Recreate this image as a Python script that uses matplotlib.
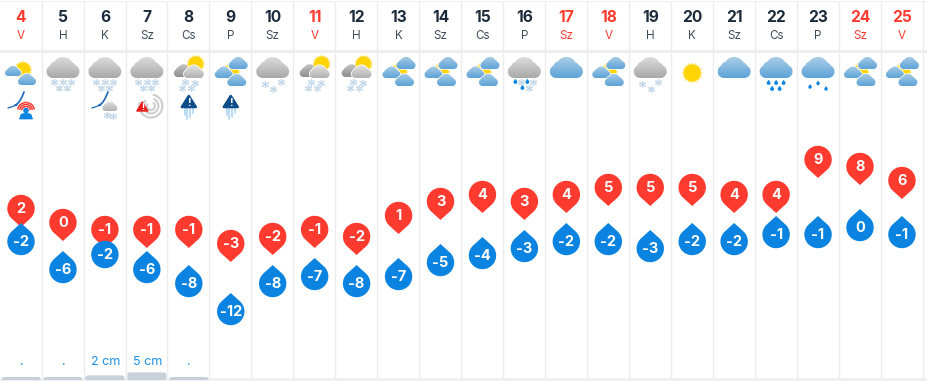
#!/usr/bin/env python3
"""Monthly weather forecast strip: day header, icons, high/low pins, snow depth."""

import numpy as np
import matplotlib
matplotlib.use("Agg")
import matplotlib.pyplot as plt
from matplotlib.path import Path
from matplotlib.patches import PathPatch, Polygon, Circle, Rectangle, FancyBboxPatch, Arc

plt.rcParams['font.family'] = ['Inter', 'DejaVu Sans']

days = [4, 5, 6, 7, 8, 9, 10, 11, 12, 13, 14, 15, 16, 17, 18, 19, 20, 21, 22, 23, 24, 25]
weekdays = ["V", "H", "K", "Sz", "Cs", "P", "Sz", "V", "H", "K", "Sz", "Cs", "P", "Sz", "V", "H", "K", "Sz", "Cs", "P", "Sz", "V"]
red_days = [4, 11, 17, 18, 24, 25]
highs = [2, 0, -1, -1, -1, -3, -2, -1, -2, 1, 3, 4, 3, 4, 5, 5, 5, 4, 4, 9, 8, 6]
lows = [-2, -6, -2, -6, -8, -12, -8, -7, -8, -7, -5, -4, -3, -2, -2, -3, -2, -2, -1, -1, 0, -1]
icons = ["sunny_blue", "snow", "snow", "snow", "sun_snow", "three_blue", "light_snow", "sun_snow", "sun_snow",
         "three_blue", "three_blue", "three_blue", "mix", "blue", "three_blue", "light_snow", "sun", "blue",
         "rain", "light_rain", "three_blue", "three_blue"]
warnings = {4: "wind_person", 6: "wind_cloud", 7: "storm", 8: "ice", 9: "ice"}
snow_labels = {4: ".", 5: ".", 6: "2 cm", 7: "5 cm", 8: "."}
snow_depth = {4: 0.4, 5: 0.4, 6: 2, 7: 5, 8: 0.4}

RED = "#ff3b30"
BLUE = "#0a84e0"
NAVY = "#1c2b3c"
GRID = "#ececec"
GRAY_CLOUD = ("#dcdcdc", "#a9a9a9")
DARK_CLOUD = ("#c4c4c4", "#8f8f8f")
LIGHT_CLOUD = ("#e2e2e2", "#b2b2b2")
BLUE_CLOUD = ("#a9cde6", "#5ea3d8")

fig = plt.figure(figsize=(9.28, 3.81), dpi=100)
ax = fig.add_axes([0, 0, 1, 1])
ax.axis("off")


def col_x(i):
    return 21 + 41.95 * i


def high_y(t):
    return 222.5 - 7 * t


def low_y(t):
    return 227.5 - 7 * t


def cloud(cx, bottom, w, colors, z):
    # outline is the envelope of a few lobes, flat at the bottom
    s = w / 33.0
    lobes = [(-10, -6.5, 6.5), (10, -6.5, 6.5), (0, -10.5, 10.5), (-7.5, -11, 5.5), (7, -9.5, 6.5)]
    xs = np.linspace(-16.5, 16.5, 120)
    top = np.full_like(xs, -6.5)
    low = np.full_like(xs, -6.5)
    for a, b, r in lobes:
        d = r ** 2 - (xs - a) ** 2
        h = np.sqrt(np.clip(d, 0, None))
        top = np.where(d > 0, np.minimum(top, b - h), top)
        if b == -6.5:
            low = np.where(d > 0, np.maximum(low, b + h), low)
    low = np.where(np.abs(xs) < 10, 0, low)
    verts = np.r_[np.c_[cx + xs * s, bottom + top * s], np.c_[cx + xs[::-1] * s, bottom + low[::-1] * s]]
    path = Path(np.r_[verts, verts[:1]], closed=True)
    ax.add_patch(PathPatch(path, fc="white", ec="white", lw=1.1, zorder=z))
    c0 = np.array(matplotlib.colors.to_rgb(colors[0]))
    c1 = np.array(matplotlib.colors.to_rgb(colors[1]))
    t = np.linspace(0, 1, 32)[:, None, None]
    grad = c0[None, None, :] * (1 - t) + c1[None, None, :] * t
    im = ax.imshow(grad, extent=(cx - w, cx + w, bottom, bottom - 21 * s), aspect="auto", zorder=z + 0.1,
                   interpolation="bilinear")
    im.set_clip_path(path, transform=ax.transData)


def sun(cx, cy, r, z):
    ang = np.linspace(0, 2 * np.pi, 33)[:-1]
    rad = np.where(np.arange(32) % 2 == 0, r * 1.28, r * 1.02)
    ax.add_patch(Polygon(np.c_[cx + rad * np.cos(ang), cy + rad * np.sin(ang)], fc="#ffe88a", ec="none", zorder=z))
    ax.add_patch(Circle((cx, cy), r, fc="#ffd400", ec="none", zorder=z + 0.1))


def flakes(cx, pts):
    for dx, y in pts:
        ax.plot(cx + dx, y, marker=(6, 2, 0), ms=5.0, mew=0.9, color="#c6daeb", zorder=6)


def drops(cx, pts, size=1.0):
    for dx, y in pts:
        drop_path = teardrop(cx + dx, y, 1.9 * size, 3.2 * size, up=True)
        ax.add_patch(PathPatch(drop_path, fc=BLUE, ec="none", zorder=6))


def teardrop(x, y, r, tip, up):
    # circle plus tangents running to a point, up or down from the centre
    a = np.arccos(r / tip)
    sign = -1 if up else 1
    ang = np.linspace(a, 2 * np.pi - a, 60)
    px = x + r * np.sin(ang)
    py = y + sign * r * np.cos(ang)
    verts = np.r_[[[x, y + sign * tip]], np.c_[px, py], [[x, y + sign * tip]]]
    return Path(verts, closed=True)


def swoosh(cx, cy):
    # two thin crescents rising to the right
    t = np.linspace(0, 1, 30)
    ax.plot(cx - 13 + 9 * t, cy + 13 - 3 * t, color="#1a66b8", lw=0.9, zorder=6, solid_capstyle="round")
    ax.plot(cx - 6 + 9 * t, cy + 10 - 2 * t - 11 * t ** 2, color="#1a66b8", lw=1.2, zorder=6, solid_capstyle="round")


def warning_icon(kind, cx):
    if kind == "wind_person":
        swoosh(cx, 95)
        px = cx + 5
        for r in (9, 13, 17):
            ax.add_patch(Arc((px, 111), r, r, theta1=190, theta2=350, color=RED, lw=1.1, zorder=6))
        ax.add_patch(Circle((px, 110.5), 2.8, fc=BLUE, ec="none", zorder=7))
        ax.add_patch(Polygon([(px - 6.5, 119), (px - 5, 114.5), (px - 2.5, 113.5), (px + 2.5, 113.5), (px + 5, 114.5),
                              (px + 6.5, 119)], fc=BLUE, ec=BLUE, lw=0.5, joinstyle="round", zorder=7))
    elif kind == "wind_cloud":
        swoosh(cx, 95)
        cloud(cx + 5, 111, 15, LIGHT_CLOUD, 6)
        flakes(cx + 5, [(-3, 115), (3, 115.5)])
    elif kind == "storm":
        for r, a0, a1 in ((8, -60, 220), (15, -70, 230), (23, -80, 200)):
            ax.add_patch(Arc((cx + 4, 106), r, r, theta1=a0, theta2=a1, color="#cfcfcf", lw=1.6, zorder=6))
        ax.add_patch(Polygon([(cx - 10, 111), (cx - 4.5, 102), (cx + 1, 111)], fc="#ee1c1c", ec="#ee1c1c",
                             lw=1, joinstyle="round", zorder=7))
        ax.text(cx - 4.5, 107.5, "!", color="white", fontsize=6.5, fontweight="bold", ha="center", va="center", zorder=8)
    elif kind == "ice":
        for dx, y1 in ((-4, 115), (-1.5, 119), (1.5, 117), (4, 113)):
            ax.plot([cx + dx, cx + dx], [107, y1], color="#b4daf2", lw=1.3, zorder=5, solid_capstyle="round")
        ax.add_patch(Polygon([(cx - 7, 107), (cx, 96), (cx + 7, 107)], fc="#0f4c8a", ec="#0f4c8a", lw=1.8,
                             joinstyle="round", zorder=6))
        ax.text(cx, 103, "!", color="white", fontsize=7.5, fontweight="bold", ha="center", va="center", zorder=7)


def weather_icon(kind, cx):
    if kind in ("snow", "light_snow", "mix"):
        cloud(cx, 78, 33, GRAY_CLOUD, 4)
    if kind == "snow":
        flakes(cx, [(-8.5, 82), (0, 82), (8.5, 82), (-4, 87.5), (4, 87.5)])
    elif kind == "light_snow":
        flakes(cx, [(-8, 83.5), (8, 82), (0.5, 88.5)])
    elif kind == "mix":
        drops(cx, [(-9, 82), (3, 82), (-2, 88)])
        flakes(cx, [(-3.5, 82), (8.5, 82), (4.5, 88)])
    elif kind == "blue":
        cloud(cx, 78, 33, BLUE_CLOUD, 4)
    elif kind == "rain":
        cloud(cx, 78, 33, BLUE_CLOUD, 4)
        drops(cx, [(-7.5, 83), (0, 83), (7.5, 83), (-4, 89), (3.5, 89)])
    elif kind == "light_rain":
        cloud(cx, 78, 33, BLUE_CLOUD, 4)
        drops(cx, [(-8, 87), (0, 83.5), (8, 89)], size=0.9)
    elif kind == "sun":
        sun(cx, 73, 8.5, 4)
    elif kind == "three_blue":
        sun(cx + 0.5, 72, 7.5, 3)
        cloud(cx + 7.5, 69, 19, BLUE_CLOUD, 4)
        cloud(cx - 7, 78, 18, BLUE_CLOUD, 4.5)
        cloud(cx + 6, 86, 19, BLUE_CLOUD, 5)
    elif kind == "sunny_blue":
        sun(cx + 2, 70, 7.5, 3)
        cloud(cx - 8, 76, 16, BLUE_CLOUD, 4)
        cloud(cx + 6, 85, 18, BLUE_CLOUD, 5)
    elif kind == "sun_snow":
        sun(cx + 7, 64, 7.5, 3)
        cloud(cx - 5, 77, 20, DARK_CLOUD, 2)
        cloud(cx + 5, 78, 20, LIGHT_CLOUD, 4)
        flakes(cx, [(-4, 82), (6, 82.5), (-7, 88), (2, 88)])


# frame of the table
ax.add_patch(Rectangle((0, 49.5), 928, 3, fc="#eeeeee", ec="none", zorder=1))
ax.add_patch(Rectangle((0, 0.5), 928, 1.2, fc="#f0f0f0", ec="none", zorder=1))
ax.add_patch(Rectangle((0, 378), 928, 3, fc="#f0f0f0", ec="none", zorder=1))
for i in range(1, len(days) + 1):
    x = 41.95 * i - 0.3
    ax.plot([x, x], [1, 378], color=GRID, lw=1, zorder=1.2, solid_capstyle="butt")

for i, day in enumerate(days):
    cx = col_x(i)
    head_color = RED if day in red_days else NAVY
    sub_color = RED if day in red_days else "#3d4d5c"
    ax.text(cx, 17, str(day), color=head_color, fontsize=11.2, fontweight="bold", ha="center", va="center")
    ax.text(cx, 36, weekdays[i], color=sub_color, fontsize=8.4, ha="center", va="center")
    weather_icon(icons[i], cx)
    if day in warnings:
        warning_icon(warnings[day], cx)

    # high pin first, the low drop sits above it
    hy = high_y(highs[i])
    ly = low_y(lows[i])
    ax.add_patch(PathPatch(teardrop(cx, hy, 13.7, 18.5, up=False), fc=RED, ec="none", zorder=10))
    ax.text(cx, hy + 0.3, str(highs[i]), color="white", fontsize=10.5, fontweight="bold", ha="center", va="center", zorder=13)
    if ly < hy + 25:
        ly = hy + 25
        ax.add_patch(Circle((cx, ly), 13.7, fc=BLUE, ec="none", zorder=11))
    else:
        ax.add_patch(PathPatch(teardrop(cx, ly, 13.7, 18.5, up=True), fc=BLUE, ec="none", zorder=11))
    ax.text(cx, ly + 0.3, str(lows[i]), color="white", fontsize=10.5, fontweight="bold", ha="center", va="center", zorder=13)

    if day in snow_labels:
        ax.text(cx + 0.5, 362, snow_labels[day], color="#1b8fe3", fontsize=9, ha="center", va="center")
        h = 2.6 + snow_depth[day]
        ax.add_patch(FancyBboxPatch((cx - 19.5, 381 - h - 1), 39, h + 1, boxstyle="round,pad=0,rounding_size=2.5",
                                    fc="#c6d1da", ec="none", zorder=2))
        ax.add_patch(Rectangle((cx - 20.5, 380), 41, 1, fc="#f0f0f0", ec="none", zorder=2.5))

ax.set_xlim(0, 928)
ax.set_ylim(381, 0)
fig.savefig("out.png", dpi=100)
